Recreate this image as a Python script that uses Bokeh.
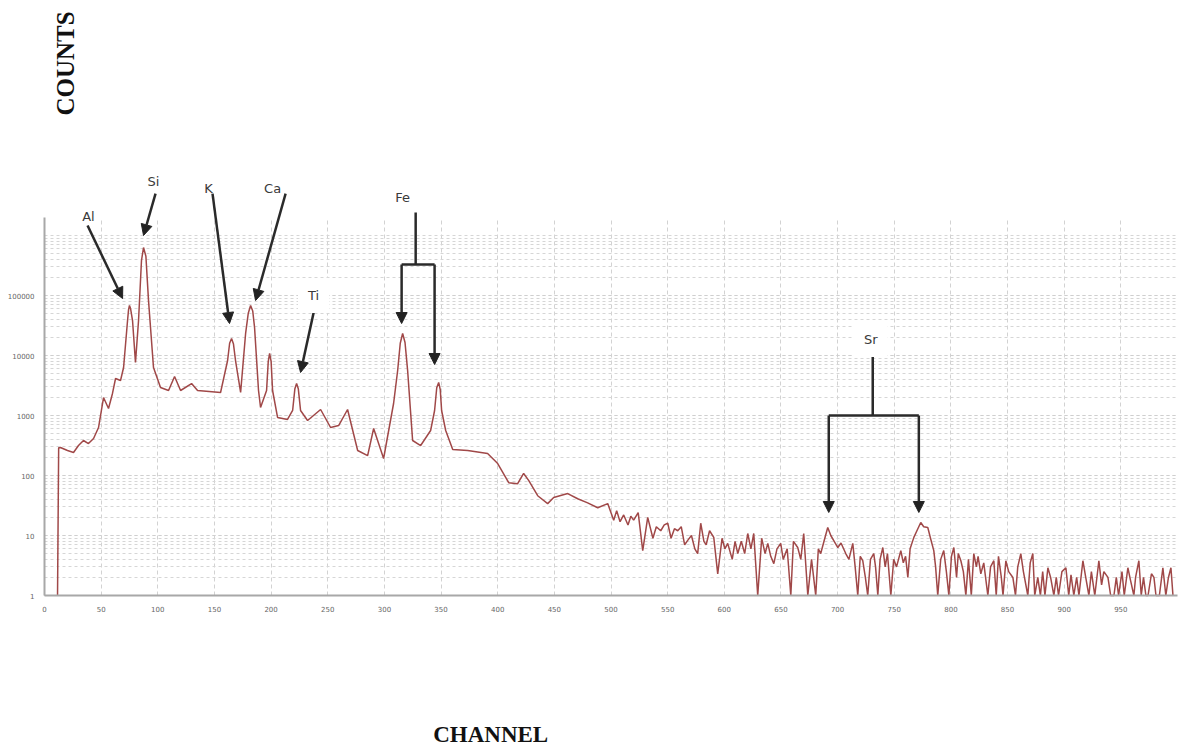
import math
from bokeh.plotting import figure
from bokeh.models import (Arrow, NormalHead, Label, FixedTicker,
                          NumeralTickFormatter, Range1d)
from bokeh.embed import file_html
from bokeh.resources import INLINE

# ---------------- data ----------------
# low-energy part with the Al, Si, K, Ca, Ti and Fe peaks
peaks_channel = [
    11.5, 12.5, 14.1, 20.3, 25.6, 30.0, 34.4, 38.8, 43.3, 47.7,
    52.1, 56.5, 60.0, 62.7, 67.1, 69.8, 73.3, 74.2, 75.0, 76.0,
    77.7, 80.3, 83.0, 85.6, 87.4, 89.5, 91.8, 96.2, 102.4, 109.5,
    114.8, 120.1, 129.8, 135.1, 155.4, 161.6, 163.4, 165.1, 166.8, 168.6,
    173.1, 177.5, 179.8, 181.9, 183.8, 185.4, 188.9, 190.7, 196.0, 197.5,
    198.7, 200.0, 201.3, 205.7, 214.5, 219.0, 221.0, 222.5, 224.0, 226.0,
    232.2, 243.7, 252.5, 259.6, 267.5, 276.4, 285.2, 290.5, 299.3, 308.1,
    311.7, 314.0, 316.1, 318.2, 320.5, 324.9, 332.0, 340.8, 344.3, 346.2,
    347.9, 349.3, 350.5, 354.1, 360.3, 373.5, 391.1, 400.0, 409.7, 417.6,
    422.9, 427.3, 435.3, 444.1, 449.4, 461.8, 470.6, 479.4, 488.3,
]
peaks_counts = [
    1, 290, 293, 261, 242, 316, 383, 341, 414, 631,
    1995, 1309, 2330, 4140, 3830, 6310, 38300, 58000, 68100, 60000,
    38300, 7640, 38300, 383000, 631000, 450000, 82500, 6310, 2930, 2610,
    4470, 2610, 3410, 2610, 2420, 8250, 16000, 19200, 15500, 8250,
    2420, 23300, 50000, 68100, 55000, 29300, 2610, 1360, 2610, 8000,
    10800, 8000, 2610, 927, 858, 1212, 2800, 3410, 2800, 1212,
    825, 1259, 631, 681, 1259, 261, 215, 607, 192, 1585,
    5620, 16000, 23300, 16500, 5620, 383, 316, 562, 1212, 2900,
    3550, 2700, 1212, 562, 271, 261, 233, 158, 76, 73,
    108, 83, 46, 34, 43, 50, 41, 35, 29,
]
# noisy continuum 497 - 690
mid_channel = [
    497.1, 502.4, 505.0, 508.0, 511.2, 515.0, 517.5, 520.0, 524.0, 528.0,
    532.4, 537.0, 540.0, 543.9, 547.0, 550.1, 553.0, 556.0, 558.9, 562.0,
    565.0, 567.7, 571.0, 574.0, 576.5, 579.2, 582.0, 584.0, 587.0, 590.7,
    594.2, 598.0, 600.5, 603.0, 607.0, 609.5, 611.9, 615.0, 618.0, 620.7,
    623.5, 626.0, 629.5, 633.0, 636.0, 638.4, 641.0, 643.7, 646.5, 649.8,
    652.0, 655.5, 658.7, 661.0, 664.8, 667.5, 670.1, 673.7, 677.0, 680.7,
    683.0, 685.1, 688.0,
]
mid_counts = [
    34, 18, 26, 17, 22, 15, 21, 18, 24, 5.6,
    20, 9, 14, 12, 15, 16, 9, 13, 12, 14,
    7, 8.3, 10, 6, 5.0, 16, 8, 7, 12, 9.3,
    2.3, 9, 6, 7.4, 4, 8, 5.0, 8, 5, 10.8,
    6, 10.8, 1, 9, 5, 7.4, 4.5, 3.4, 6, 7.4,
    4, 6, 1, 8, 6.3, 4, 10.8, 1, 4, 1,
    6, 5.0, 8,
]
# Sr region 691 - 776
sr_channel = [
    691.3, 694.0, 697.0, 700.2, 703.0, 707.2, 710.0, 713.4, 715.5, 717.8,
    720.0, 722.2, 724.5, 726.6, 729.0, 731.9, 733.5, 735.5, 737.5, 739.9,
    742.0, 744.0, 747.0, 749.5, 752.0, 755.8, 758.0, 760.0, 762.0, 764.0,
    767.3, 770.0, 773.4, 776.0,
]
sr_counts = [
    13.6, 10, 8, 6.3, 7.5, 5.0, 4, 7.4, 3, 1,
    4.5, 3.8, 2, 1, 4, 5.0, 3, 1, 4, 6.3,
    3, 5, 1, 4, 3, 5.6, 3.5, 4.5, 2.0, 6,
    9.3, 12, 16.5, 14,
]
# high-channel tail 780 - 996
tail_channel = [
    779.6, 782.0, 784.9, 786.5, 788.4, 791.0, 793.7, 796.0, 798.2, 800.5,
    802.6, 805.0, 806.5, 808.8, 811.0, 813.2, 815.5, 818.0, 820.2, 822.5,
    824.0, 826.4, 829.0, 832.6, 835.0, 837.9, 840.0, 842.0, 844.5, 846.0,
    848.5, 851.0, 854.7, 857.0, 859.0, 861.7, 864.0, 867.9, 870.0, 872.3,
    874.0, 876.7, 879.0, 881.0, 883.0, 885.6, 888.0, 890.9, 893.0, 895.0,
    898.0, 901.5, 904.0, 906.0, 908.5, 911.0, 913.0, 916.5, 919.0, 921.8,
    924.0, 927.0, 930.6, 933.0, 935.0, 938.6, 941.0, 943.9, 946.0, 948.0,
    951.0, 953.0, 956.2, 958.5, 961.5, 963.0, 965.9, 968.0, 970.0, 972.1,
    974.0, 977.0, 979.2, 981.0, 984.0, 987.1, 989.7, 992.0, 994.2, 996.0,
]
tail_counts = [
    13.6, 9, 5.6, 3, 1, 4, 5.6, 2.5, 1, 4.5,
    6.3, 2, 5, 3.8, 2.5, 1, 4, 1, 5.0, 3,
    4.5, 2.3, 3.5, 1, 3, 3.8, 1, 4.5, 2, 1,
    3.8, 2.5, 2.0, 1, 3, 5.0, 2.5, 1, 3.5, 5.0,
    1, 2.0, 1, 2.5, 1, 2.9, 2, 1, 2, 1,
    2.5, 2.9, 1, 2.2, 1, 2, 1, 3.8, 2, 1,
    2.5, 1, 3.8, 1.5, 2.5, 2.0, 1, 1, 2, 1,
    2.5, 1, 2.9, 1.8, 1, 2, 3.8, 1, 2, 1,
    1, 2.3, 2.0, 1, 1, 2.9, 1, 2, 2.9, 1,
]
channels = peaks_channel + mid_channel + sr_channel + tail_channel
counts = peaks_counts + mid_counts + sr_counts + tail_counts

x_ticks = list(range(0, 1000, 50))
y_ticks = [1, 10, 100, 1000, 10000, 100000]
y_minor = [m * 10 ** k for k in range(0, 6) for m in range(2, 10)] + [10 ** k for k in range(0, 7)]

element_labels = ["Al", "Si", "K", "Ca", "Ti", "Fe", "Sr"]
element_label_x = [38.8, 96.2, 144.8, 201.3, 237.5, 316.1, 729.3]
element_label_y = [2.07e6, 7.9e6, 6.0e6, 6.0e6, 1.0e5, 4.3e6, 1.85e4]

# arrows: (x_start, y_start, x_end, y_end, with_head)
arrows = [
    (38.0, 1.47e6, 68.9, 8.9e4, True),      # Al
    (98.0, 5.0e6, 87.4, 1.0e6, True),       # Si
    (148.3, 5.0e6, 163.3, 3.41e4, True),    # K
    (212.8, 5.0e6, 186.3, 8.25e4, True),    # Ca
    (239.3, 7.36e4, 226.0, 5.21e3, True),   # Ti
    (327.6, 2.42e6, 327.6, 3.29e5, False),  # Fe stem
    (315.2, 3.29e5, 344.3, 3.29e5, False),  # Fe bar
    (315.2, 3.29e5, 315.2, 3.41e4, True),   # Fe Ka
    (344.3, 3.29e5, 344.3, 7.08e3, True),   # Fe Kb
    (731.0, 1.36e4, 731.0, 1000, False),    # Sr stem
    (692.2, 1000, 771.7, 1000, False),      # Sr bar
    (692.2, 1000, 692.2, 24.2, True),       # Sr Ka
    (771.7, 1000, 771.7, 24.2, True),       # Sr Kb
]

# ---------------- figure ----------------
PX_PER_CH = 1.133     # horizontal scale (layout)
PX_PER_DEC = 60.0     # vertical scale (layout)
X0_PX, Y1_PX = 44, 595
W, H = 1187, 749

p = figure(width=W, height=H, y_axis_type="log",
           x_range=Range1d(-X0_PX / PX_PER_CH, (W - X0_PX) / PX_PER_CH),
           y_range=Range1d(10 ** ((Y1_PX - H) / PX_PER_DEC), 10 ** (Y1_PX / PX_PER_DEC)),
           output_backend="svg", toolbar_location=None,
           min_border_left=0, min_border_right=0,
           min_border_top=0, min_border_bottom=0)
p.outline_line_color = None
p.background_fill_color = "white"
p.border_fill_color = "white"

p.xaxis.ticker = FixedTicker(ticks=x_ticks)
p.yaxis.ticker = FixedTicker(ticks=y_ticks, minor_ticks=y_minor)
p.yaxis.formatter = NumeralTickFormatter(format="0")
p.xaxis.fixed_location = 1
p.yaxis.fixed_location = 0
p.xaxis.bounds = (0, 1000)
p.yaxis.bounds = (1, 10 ** 6.3)
for ax in (p.xaxis, p.yaxis):
    ax.axis_line_color = "#a8a8a8"
    ax.axis_line_width = 2
    ax.major_tick_line_color = None
    ax.minor_tick_line_color = None
    ax.major_label_text_font_size = "7px"
    ax.major_label_text_color = "#666666"
    ax.major_label_text_font = "DejaVu Sans"
    ax.major_label_standoff = 4

grid_top = 10 ** 6.25
p.xgrid.grid_line_color = "#d2d2d2"
p.xgrid.grid_line_dash = "4 3"
p.xgrid.grid_line_width = 1
p.ygrid.grid_line_color = "#cfcfcf"
p.ygrid.grid_line_dash = "3 3"
p.ygrid.minor_grid_line_color = "#d6d6d6"
p.ygrid.minor_grid_line_dash = "3 3"
try:
    p.xgrid.cross_bounds = (1, grid_top)
    p.ygrid.cross_bounds = (0, 1000)
except Exception:
    p.xgrid.visible = False
    p.ygrid.visible = False
    vx = x_ticks[1:]
    p.segment(x0=vx, y0=[1] * len(vx), x1=vx, y1=[grid_top] * len(vx),
              line_color="#d2d2d2", line_dash="4 3", line_width=1, level="underlay")
    hy = y_ticks[1:] + y_minor
    p.segment(x0=[0] * len(hy), y0=hy, x1=[1000] * len(hy), y1=hy,
              line_color="#d4d4d4", line_dash="3 3", line_width=1, level="underlay")

p.line(channels, counts, line_color="#a04848", line_width=1.5)

for (xs, ys, xe, ye, head) in arrows:
    end = NormalHead(size=11, fill_color="#222222", line_color="#222222") if head else None
    p.add_layout(Arrow(x_start=xs, y_start=ys, x_end=xe, y_end=ye, end=end,
                       line_color="#2a2a2a", line_width=2.5))

for t, lx, ly in zip(element_labels, element_label_x, element_label_y):
    bg = "white" if t in ("Ti", "Sr") else None
    p.add_layout(Label(x=lx, y=ly, text=t, text_align="center",
                       text_baseline="middle", text_font="DejaVu Sans",
                       text_font_size="13px", text_color="#3a3a3a",
                       background_fill_color=bg, padding=10))

p.add_layout(Label(x=18.5, y=1.0e8, text="COUNTS", angle=math.pi / 2,
                   text_align="left", text_baseline="middle",
                   text_font="Liberation Serif", text_font_style="bold",
                   text_font_size="25px", text_color="#111111"))
p.add_layout(Label(x=393.8, y=10 ** (-2.3167), text="CHANNEL",
                   text_align="center", text_baseline="middle",
                   text_font="Liberation Serif", text_font_style="bold",
                   text_font_size="23px", text_color="#111111"))

open("out.html", "w").write(file_html(p, INLINE))
